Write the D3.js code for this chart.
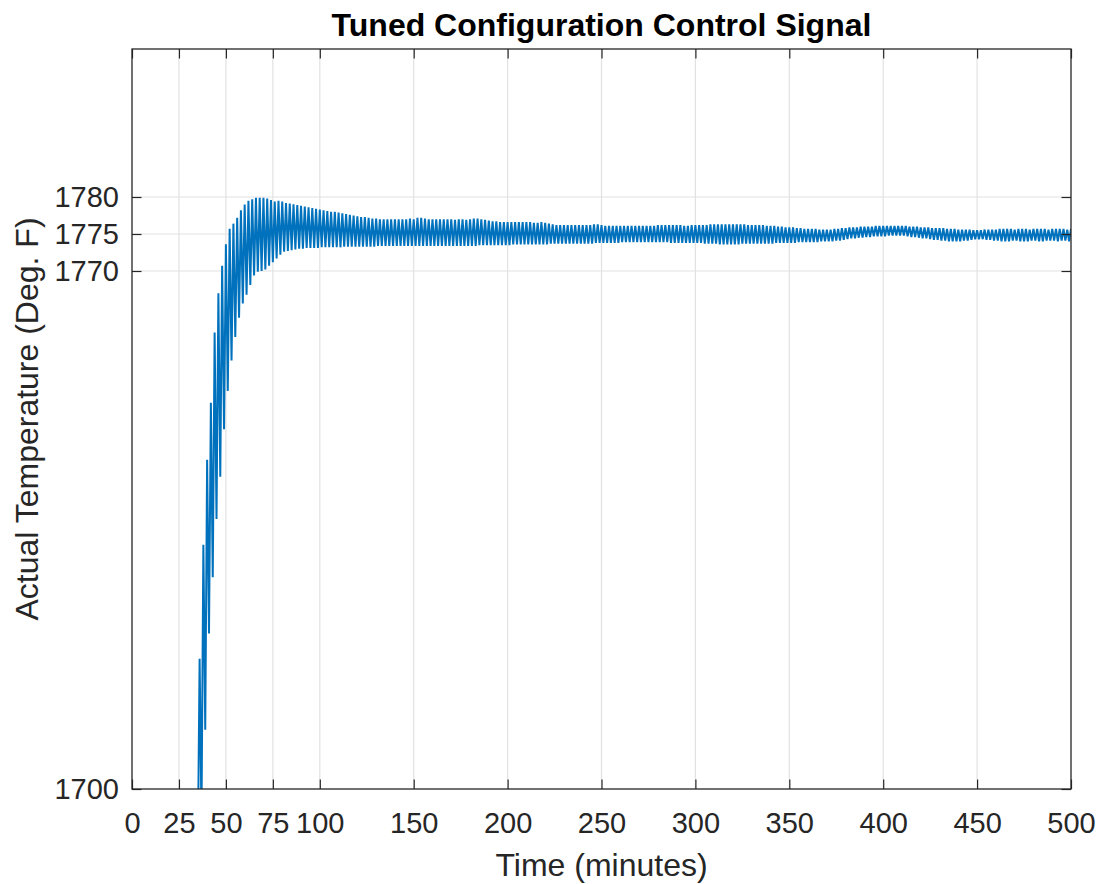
<!DOCTYPE html>
<html>
<head>
<meta charset="utf-8">
<script src="https://cdn.jsdelivr.net/npm/d3@7"></script>
<style>
  html, body { margin: 0; padding: 0; background: #ffffff; }
  svg { display: block; }
</style>
</head>
<body>
<svg id="chart" width="1101" height="884"></svg>
<script>
// Furnace temperature response under the tuned controller.
// Samples are one minute apart and alternate between a crest and a trough.

const titleText = "Tuned Configuration Control Signal";
const xLabelText = "Time (minutes)";
const yLabelText = "Actual Temperature (Deg. F)";

const xTicks = [0, 25, 50, 75, 100, 150, 200, 250, 300, 350, 400, 450, 500];
const yTicks = [1700, 1770, 1775, 1780];
const xDomain = [0, 500];
const yDomain = [1700, 1800];

// Last sample below the visible range before the trace enters the plot.
const leadInTime = 35;
const leadInValue = 1690;

// Crest values, at t = 36, 38, 40, ... 500 minutes.
const crestStart = 36;
const crests = [
  1717.6, 1733.0, 1744.5, 1752.2, 1761.7, 1767.0, 1770.7, 1773.6, 1775.7, 1776.4,
  1777.2, 1778.2, 1779.0, 1779.5, 1779.7, 1779.9, 1779.9, 1779.9, 1779.8, 1779.6,
  1779.4, 1779.5, 1779.4, 1779.2, 1779.1, 1779.0, 1778.9, 1778.8, 1778.7, 1778.6,
  1778.5, 1778.4, 1778.3, 1778.2, 1778.1, 1778.0, 1778.0, 1777.9, 1777.8, 1777.7,
  1777.6, 1777.5, 1777.4, 1777.3, 1777.3, 1777.2, 1777.1, 1777.1, 1777.0, 1777.0,
  1777.0, 1777.0, 1777.0, 1777.0, 1777.0, 1777.0, 1777.1, 1777.0, 1777.2, 1777.2,
  1777.1, 1777.0, 1777.0, 1777.0, 1777.0, 1777.0, 1777.0, 1777.0, 1776.9, 1777.0,
  1777.0, 1776.9, 1777.0, 1777.1, 1777.1, 1777.0, 1776.9, 1776.8, 1776.7, 1776.7,
  1776.6, 1776.6, 1776.6, 1776.6, 1776.6, 1776.6, 1776.6, 1776.6, 1776.6, 1776.5,
  1776.5, 1776.6, 1776.5, 1776.4, 1776.3, 1776.2, 1776.2, 1776.2, 1776.2, 1776.2,
  1776.2, 1776.2, 1776.2, 1776.2, 1776.2, 1776.3, 1776.3, 1776.2, 1776.1, 1776.1,
  1776.1, 1776.1, 1776.1, 1776.1, 1776.1, 1776.1, 1776.1, 1776.1, 1776.1, 1776.1,
  1776.1, 1776.1, 1776.2, 1776.2, 1776.2, 1776.2, 1776.2, 1776.2, 1776.2, 1776.1,
  1776.1, 1776.2, 1776.2, 1776.2, 1776.2, 1776.2, 1776.3, 1776.3, 1776.3, 1776.3,
  1776.3, 1776.3, 1776.3, 1776.3, 1776.3, 1776.3, 1776.2, 1776.2, 1776.2, 1776.2,
  1776.2, 1776.1, 1776.1, 1776.1, 1776.0, 1776.0, 1775.9, 1775.9, 1775.9, 1775.8,
  1775.8, 1775.7, 1775.7, 1775.7, 1775.7, 1775.6, 1775.6, 1775.6, 1775.6, 1775.7,
  1775.7, 1775.8, 1775.8, 1775.9, 1775.9, 1775.9, 1776.0, 1776.0, 1776.0, 1776.0,
  1776.1, 1776.1, 1776.1, 1776.1, 1776.1, 1776.1, 1776.1, 1776.1, 1776.1, 1776.0,
  1776.0, 1776.0, 1775.9, 1775.9, 1775.9, 1775.8, 1775.8, 1775.8, 1775.8, 1775.7,
  1775.7, 1775.7, 1775.6, 1775.6, 1775.6, 1775.6, 1775.5, 1775.5, 1775.5, 1775.6,
  1775.6, 1775.6, 1775.6, 1775.7, 1775.7, 1775.7, 1775.7, 1775.6, 1775.7, 1775.7,
  1775.7, 1775.6, 1775.7, 1775.7, 1775.7, 1775.7, 1775.6, 1775.7, 1775.7, 1775.7,
  1775.7, 1775.6, 1775.7
];

// Trough values, at t = 37, 39, 41, ... 499 minutes.
const troughStart = 37;
const troughs = [
  1696.0, 1708.0, 1721.0, 1728.6, 1736.5, 1742.2, 1748.6, 1753.8, 1757.9, 1761.1,
  1763.7, 1765.6, 1766.8, 1768.1, 1769.4, 1769.9, 1770.0, 1770.2, 1770.7, 1771.2,
  1771.7, 1772.2, 1772.6, 1772.7, 1772.8, 1772.9, 1773.0, 1773.0, 1773.1, 1773.1,
  1773.1, 1773.1, 1773.2, 1773.2, 1773.2, 1773.2, 1773.2, 1773.2, 1773.3, 1773.3,
  1773.3, 1773.3, 1773.3, 1773.3, 1773.3, 1773.3, 1773.3, 1773.4, 1773.4, 1773.4,
  1773.4, 1773.4, 1773.4, 1773.4, 1773.4, 1773.4, 1773.4, 1773.4, 1773.4, 1773.4,
  1773.4, 1773.4, 1773.4, 1773.4, 1773.4, 1773.4, 1773.4, 1773.4, 1773.4, 1773.4,
  1773.4, 1773.4, 1773.4, 1773.4, 1773.5, 1773.5, 1773.5, 1773.5, 1773.5, 1773.5,
  1773.5, 1773.5, 1773.5, 1773.6, 1773.6, 1773.6, 1773.6, 1773.6, 1773.6, 1773.6,
  1773.6, 1773.6, 1773.6, 1773.7, 1773.7, 1773.7, 1773.7, 1773.7, 1773.7, 1773.7,
  1773.7, 1773.7, 1773.7, 1773.7, 1773.7, 1773.8, 1773.8, 1773.8, 1773.8, 1773.8,
  1773.8, 1773.8, 1773.9, 1773.9, 1773.9, 1773.9, 1773.9, 1773.9, 1773.9, 1773.9,
  1773.9, 1773.9, 1773.9, 1773.9, 1773.9, 1773.8, 1773.8, 1773.8, 1773.8, 1773.8,
  1773.8, 1773.8, 1773.8, 1773.8, 1773.7, 1773.7, 1773.7, 1773.7, 1773.6, 1773.6,
  1773.6, 1773.6, 1773.6, 1773.6, 1773.7, 1773.7, 1773.7, 1773.7, 1773.7, 1773.7,
  1773.7, 1773.7, 1773.7, 1773.8, 1773.8, 1773.8, 1773.8, 1773.8, 1773.8, 1773.9,
  1773.9, 1773.9, 1773.9, 1773.9, 1773.9, 1774.0, 1774.0, 1774.0, 1774.0, 1774.1,
  1774.1, 1774.2, 1774.3, 1774.4, 1774.4, 1774.5, 1774.5, 1774.6, 1774.6, 1774.7,
  1774.7, 1774.7, 1774.7, 1774.8, 1774.8, 1774.8, 1774.8, 1774.8, 1774.7, 1774.6,
  1774.6, 1774.5, 1774.4, 1774.4, 1774.3, 1774.2, 1774.2, 1774.1, 1774.1, 1774.0,
  1774.0, 1774.0, 1774.0, 1774.1, 1774.1, 1774.2, 1774.3, 1774.3, 1774.3, 1774.2,
  1774.2, 1774.1, 1774.1, 1774.0, 1774.0, 1774.0, 1774.1, 1774.1, 1774.0, 1774.0,
  1774.0, 1774.1, 1774.1, 1774.0, 1774.0, 1774.1, 1774.1, 1774.1, 1774.0, 1774.1,
  1774.1, 1774.0
];

// Build the time series by interleaving crests and troughs.
const series = [{ t: leadInTime, v: leadInValue }];
crests.forEach((v, i) => series.push({ t: crestStart + 2 * i, v }));
troughs.forEach((v, i) => series.push({ t: troughStart + 2 * i, v }));
series.sort((a, b) => a.t - b.t);

const margin = { left: 132, right: 30, top: 49, bottom: 95 };
const width = 1101, height = 884;
const plotW = width - margin.left - margin.right;
const plotH = height - margin.top - margin.bottom;

const axisColor = "#262626";
const gridColor = "#e2e2e2";
const lineColor = "#0072bd";
const fontFamily = "'Liberation Sans', Arial, Helvetica, sans-serif";
const tickFontSize = 29;
const labelFontSize = 32;
const tickLen = 9.5;

const svg = d3.select("#chart");

const x = d3.scaleLinear().domain(xDomain).range([margin.left, margin.left + plotW]);
const y = d3.scaleLinear().domain(yDomain).range([margin.top + plotH, margin.top]);

svg.append("defs").append("clipPath").attr("id", "plot-clip")
  .append("rect")
  .attr("x", x(xDomain[0])).attr("y", y(yDomain[1]))
  .attr("width", plotW).attr("height", plotH);

// Grid
const grid = svg.append("g").attr("class", "grid");
grid.selectAll("line.gx").data(xTicks.filter(d => d > xDomain[0] && d < xDomain[1]))
  .join("line").attr("class", "gx")
  .attr("x1", d => x(d)).attr("x2", d => x(d))
  .attr("y1", y(yDomain[0])).attr("y2", y(yDomain[1]))
  .attr("stroke", gridColor).attr("stroke-width", 1.2);
grid.selectAll("line.gy").data(yTicks.filter(d => d > yDomain[0] && d < yDomain[1]))
  .join("line").attr("class", "gy")
  .attr("x1", x(xDomain[0])).attr("x2", x(xDomain[1]))
  .attr("y1", d => y(d)).attr("y2", d => y(d))
  .attr("stroke", gridColor).attr("stroke-width", 1.2);

// Temperature trace
const line = d3.line().x(d => x(d.t)).y(d => y(d.v));
svg.append("path")
  .datum(series)
  .attr("clip-path", "url(#plot-clip)")
  .attr("fill", "none")
  .attr("stroke", lineColor)
  .attr("stroke-width", 2)
  .attr("stroke-linejoin", "miter")
  .attr("stroke-miterlimit", 3)
  .attr("d", line);

// Axes: ticks point inward on all four sides
function styleAxis(g) {
  g.select(".domain").remove();
  g.selectAll(".tick line").attr("stroke", axisColor).attr("stroke-width", 1.2);
  g.selectAll(".tick text")
    .attr("fill", axisColor)
    .style("font-family", fontFamily)
    .style("font-size", tickFontSize + "px");
}

const xAxisBottom = svg.append("g")
  .attr("transform", `translate(0,${y(yDomain[0])})`)
  .call(d3.axisBottom(x).tickValues(xTicks).tickFormat(d3.format("d"))
    .tickSizeInner(-tickLen).tickSizeOuter(0));
styleAxis(xAxisBottom);
xAxisBottom.selectAll(".tick text").attr("dy", "0.71em").attr("y", 23);

const xAxisTop = svg.append("g")
  .attr("transform", `translate(0,${y(yDomain[1])})`)
  .call(d3.axisTop(x).tickValues(xTicks).tickFormat("")
    .tickSizeInner(-tickLen).tickSizeOuter(0));
styleAxis(xAxisTop);

const yAxisLeft = svg.append("g")
  .attr("transform", `translate(${x(xDomain[0])},0)`)
  .call(d3.axisLeft(y).tickValues(yTicks).tickFormat(d3.format("d"))
    .tickSizeInner(-tickLen).tickSizeOuter(0));
styleAxis(yAxisLeft);
yAxisLeft.selectAll(".tick text").attr("x", -13);

const yAxisRight = svg.append("g")
  .attr("transform", `translate(${x(xDomain[1])},0)`)
  .call(d3.axisRight(y).tickValues(yTicks).tickFormat("")
    .tickSizeInner(-tickLen).tickSizeOuter(0));
styleAxis(yAxisRight);

// Box
svg.append("rect")
  .attr("x", x(xDomain[0])).attr("y", y(yDomain[1]))
  .attr("width", plotW).attr("height", plotH)
  .attr("fill", "none").attr("stroke", axisColor).attr("stroke-width", 1.3);

// Title and axis labels
svg.append("text")
  .attr("x", margin.left + plotW / 2).attr("y", 36)
  .attr("text-anchor", "middle")
  .attr("fill", "#000000")
  .style("font-family", fontFamily)
  .style("font-size", labelFontSize + "px")
  .style("font-weight", "bold")
  .text(titleText);

svg.append("text")
  .attr("x", margin.left + plotW / 2).attr("y", 876)
  .attr("text-anchor", "middle")
  .attr("fill", axisColor)
  .style("font-family", fontFamily)
  .style("font-size", labelFontSize + "px")
  .text(xLabelText);

svg.append("text")
  .attr("transform", `translate(38,${margin.top + plotH / 2}) rotate(-90)`)
  .attr("text-anchor", "middle")
  .attr("fill", axisColor)
  .style("font-family", fontFamily)
  .style("font-size", labelFontSize + "px")
  .text(yLabelText);
</script>
</body>
</html>
